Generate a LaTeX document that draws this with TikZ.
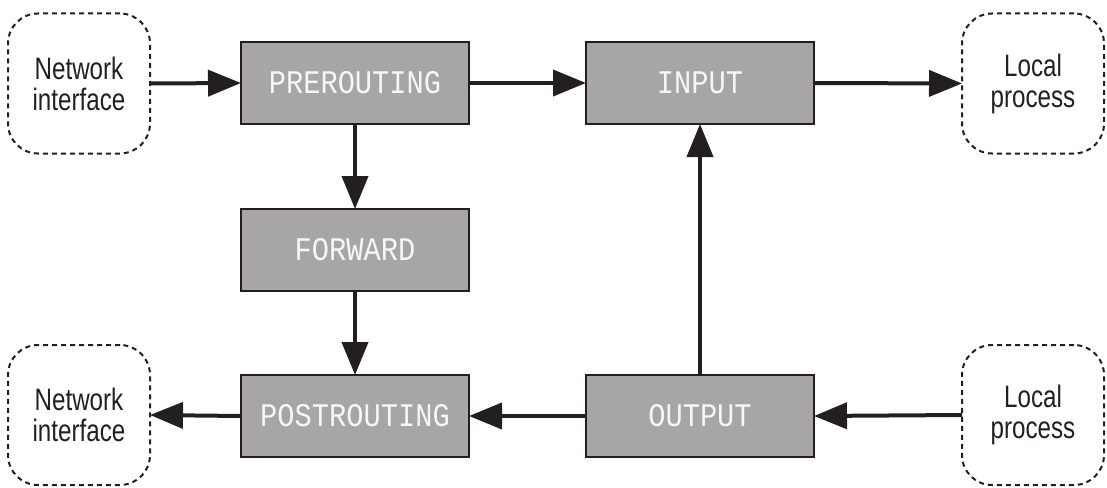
\documentclass[tikz,border=0pt]{standalone}
\usepackage{fontspec}
\usetikzlibrary{arrows.meta}
\newfontfamily\chainfont[FakeStretch=0.87]{Liberation Mono}
\newfontfamily\endfont[FakeStretch=0.78]{Liberation Sans}
\definecolor{ink}{HTML}{231F20}
\definecolor{chainfill}{HTML}{A7A5A6}
\definecolor{chaintext}{HTML}{F6F6F6}
\tikzset{
  chain/.style={draw=ink, line width=2pt, fill=chainfill, minimum width=228pt,
    minimum height=82pt, inner sep=0pt, outer sep=0pt,
    font=\chainfont\fontsize{33}{33}\selectfont, text=chaintext},
  endpoint/.style={draw=ink, line width=2pt, dash pattern=on 5pt off 4pt,
    rounded corners=30pt, minimum width=142pt, minimum height=140pt,
    inner sep=0pt, outer sep=0pt, align=center, text=ink,
    font=\endfont\fontsize{31}{31}\selectfont},
  flow/.style={draw=ink, line width=4pt,
    -{Triangle[length=33pt,width=26pt]}}
}
\begin{document}
\begin{tikzpicture}[x=1pt,y=-1pt]
  \useasboundingbox (0,0) rectangle (1107,487);
  % hooks
  \node[chain] (pre)  at (355,83)  {PREROUTING};
  \node[chain] (in)   at (700,83)  {INPUT};
  \node[chain] (fwd)  at (355,250) {FORWARD};
  \node[chain] (post) at (355,416) {POSTROUTING};
  \node[chain] (out)  at (700,416) {OUTPUT};
  % packet sources and destinations
  \node[endpoint] (nicin)   at (79,83.5)   {Network\\interface};
  \node[endpoint] (lpin)    at (1033,83.5) {Local\\process};
  \node[endpoint] (nicout)  at (79,415)    {Network\\interface};
  \node[endpoint] (lpout)   at (1033,415)  {Local\\process};
  % packet paths
  \draw[flow] (nicin.east) -- (pre.west);
  \draw[flow] (pre.east) -- (in.west);
  \draw[flow] (in.east) -- (lpin.west);
  \draw[flow] (pre.south) -- (fwd.north);
  \draw[flow] (fwd.south) -- (post.north);
  \draw[flow] (out.north) -- (in.south);
  \draw[flow] (lpout.west) -- (out.east);
  \draw[flow] (out.west) -- (post.east);
  \draw[flow] (post.west) -- (nicout.east);
\end{tikzpicture}
\end{document}
